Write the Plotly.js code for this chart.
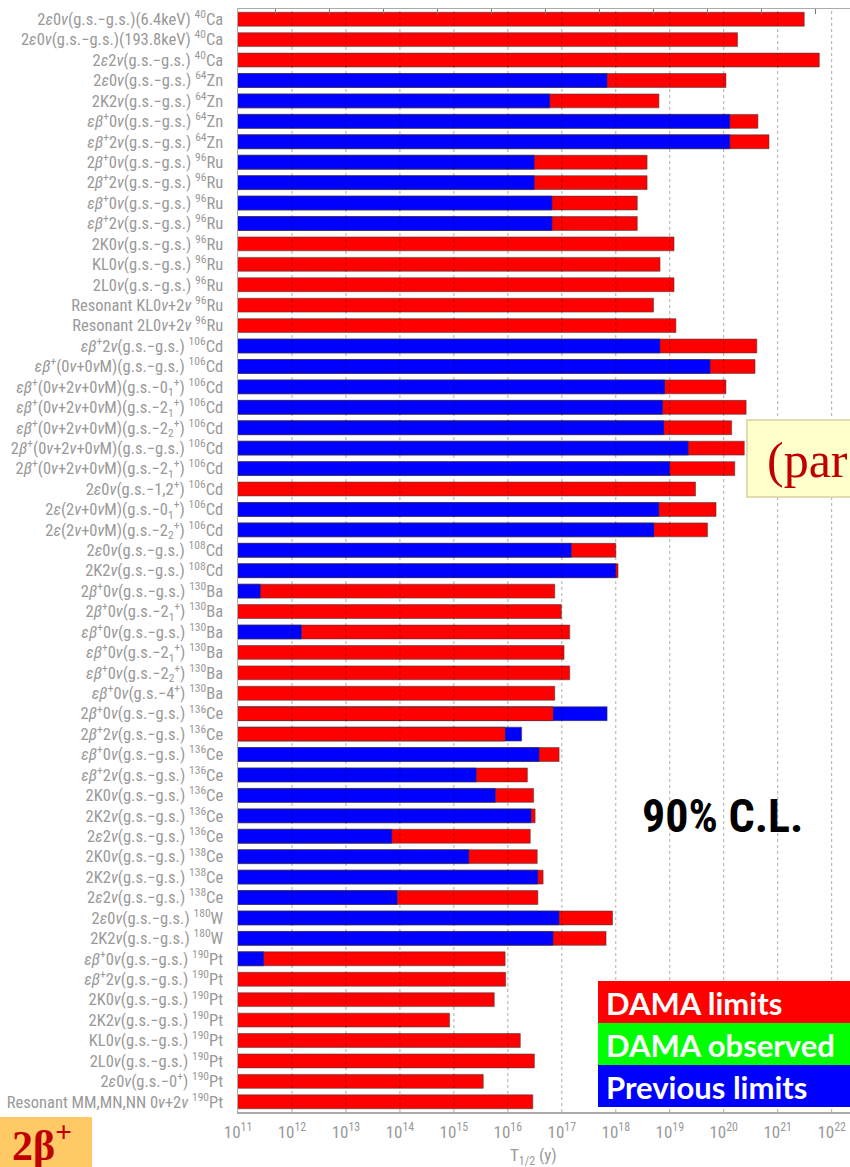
<!DOCTYPE html>
<html>
<head>
<meta charset="utf-8">
<script src="https://cdn.plot.ly/plotly-3.0.1.min.js"></script>
<style>html,body{margin:0;padding:0;overflow:hidden;background:#fff}</style>
</head>
<body>
<div id="chart" style="width:850px;height:1167px"></div>
<script>
// ---------- DATA ----------
const categories = [
  "2ε0ν(g.s.−g.s.)(6.4keV) <sup>40</sup>Ca",
  "2ε0ν(g.s.−g.s.)(193.8keV) <sup>40</sup>Ca",
  "2ε2ν(g.s.−g.s.) <sup>40</sup>Ca",
  "2ε0ν(g.s.−g.s.) <sup>64</sup>Zn",
  "2K2ν(g.s.−g.s.) <sup>64</sup>Zn",
  "εβ<sup>+</sup>0ν(g.s.−g.s.) <sup>64</sup>Zn",
  "εβ<sup>+</sup>2ν(g.s.−g.s.) <sup>64</sup>Zn",
  "2β<sup>+</sup>0ν(g.s.−g.s.) <sup>96</sup>Ru",
  "2β<sup>+</sup>2ν(g.s.−g.s.) <sup>96</sup>Ru",
  "εβ<sup>+</sup>0ν(g.s.−g.s.) <sup>96</sup>Ru",
  "εβ<sup>+</sup>2ν(g.s.−g.s.) <sup>96</sup>Ru",
  "2K0ν(g.s.−g.s.) <sup>96</sup>Ru",
  "KL0ν(g.s.−g.s.) <sup>96</sup>Ru",
  "2L0ν(g.s.−g.s.) <sup>96</sup>Ru",
  "Resonant KL0ν+2ν <sup>96</sup>Ru",
  "Resonant 2L0ν+2ν <sup>96</sup>Ru",
  "εβ<sup>+</sup>2ν(g.s.−g.s.) <sup>106</sup>Cd",
  "εβ<sup>+</sup>(0ν+0νM)(g.s.−g.s.) <sup>106</sup>Cd",
  "εβ<sup>+</sup>(0ν+2ν+0νM)(g.s.−0<sub>1</sub><sup>+</sup>) <sup>106</sup>Cd",
  "εβ<sup>+</sup>(0ν+2ν+0νM)(g.s.−2<sub>1</sub><sup>+</sup>) <sup>106</sup>Cd",
  "εβ<sup>+</sup>(0ν+2ν+0νM)(g.s.−2<sub>2</sub><sup>+</sup>) <sup>106</sup>Cd",
  "2β<sup>+</sup>(0ν+2ν+0νM)(g.s.−g.s.) <sup>106</sup>Cd",
  "2β<sup>+</sup>(0ν+2ν+0νM)(g.s.−2<sub>1</sub><sup>+</sup>) <sup>106</sup>Cd",
  "2ε0ν(g.s.−1,2<sup>+</sup>) <sup>106</sup>Cd",
  "2ε(2ν+0νM)(g.s.−0<sub>1</sub><sup>+</sup>) <sup>106</sup>Cd",
  "2ε(2ν+0νM)(g.s.−2<sub>2</sub><sup>+</sup>) <sup>106</sup>Cd",
  "2ε0ν(g.s.−g.s.) <sup>108</sup>Cd",
  "2K2ν(g.s.−g.s.) <sup>108</sup>Cd",
  "2β<sup>+</sup>0ν(g.s.−g.s.) <sup>130</sup>Ba",
  "2β<sup>+</sup>0ν(g.s.−2<sub>1</sub><sup>+</sup>) <sup>130</sup>Ba",
  "εβ<sup>+</sup>0ν(g.s.−g.s.) <sup>130</sup>Ba",
  "εβ<sup>+</sup>0ν(g.s.−2<sub>1</sub><sup>+</sup>) <sup>130</sup>Ba",
  "εβ<sup>+</sup>0ν(g.s.−2<sub>2</sub><sup>+</sup>) <sup>130</sup>Ba",
  "εβ<sup>+</sup>0ν(g.s.−4<sup>+</sup>) <sup>130</sup>Ba",
  "2β<sup>+</sup>0ν(g.s.−g.s.) <sup>136</sup>Ce",
  "2β<sup>+</sup>2ν(g.s.−g.s.) <sup>136</sup>Ce",
  "εβ<sup>+</sup>0ν(g.s.−g.s.) <sup>136</sup>Ce",
  "εβ<sup>+</sup>2ν(g.s.−g.s.) <sup>136</sup>Ce",
  "2K0ν(g.s.−g.s.) <sup>136</sup>Ce",
  "2K2ν(g.s.−g.s.) <sup>136</sup>Ce",
  "2ε2ν(g.s.−g.s.) <sup>136</sup>Ce",
  "2K0ν(g.s.−g.s.) <sup>138</sup>Ce",
  "2K2ν(g.s.−g.s.) <sup>138</sup>Ce",
  "2ε2ν(g.s.−g.s.) <sup>138</sup>Ce",
  "2ε0ν(g.s.−g.s.) <sup>180</sup>W",
  "2K2ν(g.s.−g.s.) <sup>180</sup>W",
  "εβ<sup>+</sup>0ν(g.s.−g.s.) <sup>190</sup>Pt",
  "εβ<sup>+</sup>2ν(g.s.−g.s.) <sup>190</sup>Pt",
  "2K0ν(g.s.−g.s.) <sup>190</sup>Pt",
  "2K2ν(g.s.−g.s.) <sup>190</sup>Pt",
  "KL0ν(g.s.−g.s.) <sup>190</sup>Pt",
  "2L0ν(g.s.−g.s.) <sup>190</sup>Pt",
  "2ε0ν(g.s.−0<sup>+</sup>) <sup>190</sup>Pt",
  "Resonant MM,MN,NN 0ν+2ν <sup>190</sup>Pt"
];

// DAMA half-life limits T1/2 (y)
const damaLimits = [
  3.1e21, 1.8e20, 5.9e21, 1.1e20, 6.3e18, 4.3e20, 6.9e20, 3.8e18, 3.8e18, 2.5e18, 2.5e18,
  1.2e19, 6.6e18, 1.2e19, 5.0e18, 1.3e19,
  4.1e20, 3.8e20, 1.1e20, 2.6e20, 1.4e20, 2.4e20, 1.6e20, 3.0e19, 7.2e19, 5.0e19,
  1.0e18, 1.1e18, 7.4e16, 9.8e16, 1.4e17, 1.1e17, 1.4e17, 7.4e16,
  6.9e16, 8.9e15, 8.9e16, 2.3e16, 3.0e16, 3.2e16, 2.6e16, 3.5e16, 4.5e16, 3.6e16, 8.7e17, 6.6e17,
  8.9e15, 9.1e15, 5.6e15, 8.3e14, 1.7e16, 3.1e16, 3.5e15, 2.9e16
];

// Previous limits T1/2 (y); null = none
const previousLimits = [
  null, null, null, 6.9e17, 6.0e16, 1.3e20, 1.3e20, 3.1e16, 3.1e16, 6.6e16, 6.6e16,
  null, null, null, null, null,
  6.6e18, 5.6e19, 8.1e18, 7.4e18, 7.8e18, 2.2e19, 1.0e19, null, 6.3e18, 5.1e18,
  1.5e17, 1.0e18, 2.6e11, null, 1.5e12, null, null, null,
  6.9e17, 1.8e16, 3.8e16, 2.6e15, 5.9e15, 2.7e16, 7.1e13, 1.9e15, 3.6e16, 8.9e13, 8.9e16, 6.9e16,
  3.0e11, null, null, null, null, null, null, null
];

const xTickValues = [1e11,1e12,1e13,1e14,1e15,1e16,1e17,1e18,1e19,1e20,1e21,1e22];
const xTickLabels = ["10<sup>11</sup>","10<sup>12</sup>","10<sup>13</sup>","10<sup>14</sup>","10<sup>15</sup>","10<sup>16</sup>",
                     "10<sup>17</sup>","10<sup>18</sup>","10<sup>19</sup>","10<sup>20</sup>","10<sup>21</sup>","10<sup>22</sup>"];
const topMinorTicks = [5e11,5e12,5e13,5e14,5e15,5e16,5e17,5e18,5e19,5e20,5e21];

const legendItems = ["DAMA limits", "DAMA observed", "Previous limits"];
const legendColors = ["#ff0000", "#00ff00", "#0000ff"];

// ---------- STYLE / GEOMETRY ----------
const RED = "#ff0000", BLUE = "#0000ff";
const W = 850, H = 1167, ML = 238, MT = 9, MB = 55;
const plotW = W - ML, plotH = H - MT - MB;
const decadePx = 53.97;
const xMaxLog = 11 + plotW / decadePx;
const px = x => (x - ML) / plotW;
const py = y => (H - MB - y) / plotH;

const idx = categories.map((_, i) => i);
const tickText = categories.map(s => s.replace(/([εβν])/g, "<i>$1</i>"));

// longer bar drawn first, shorter bar drawn on top
const longVals = [], longCols = [], shortVals = [], shortCols = [];
damaLimits.forEach((d, i) => {
  const p = previousLimits[i];
  if (p === null) { longVals.push(d); longCols.push(RED); shortVals.push(null); shortCols.push(RED); }
  else if (p > d) { longVals.push(p); longCols.push(BLUE); shortVals.push(d); shortCols.push(RED); }
  else { longVals.push(d); longCols.push(RED); shortVals.push(p); shortCols.push(BLUE); }
});

const barLine = {color: "rgba(60,60,60,0.55)", width: 1};
const traces = [
  {type: "bar", orientation: "h", x: longVals, y: idx, width: 0.68,
   marker: {color: longCols, line: barLine}, xaxis: "x", yaxis: "y", hoverinfo: "skip"},
  {type: "bar", orientation: "h", x: shortVals, y: idx, width: 0.68,
   marker: {color: shortCols, line: barLine}, xaxis: "x2", yaxis: "y", hoverinfo: "skip"}
];

const labelFont = "Liberation Sans Narrow, Roboto Condensed, DejaVu Sans Condensed, Liberation Sans, sans-serif";

const shapes = xTickValues.slice(1).map(v => ({
  type: "line", xref: "x", yref: "paper", x0: v, x1: v, y0: 0, y1: 1,
  line: {color: "rgba(0,0,0,0.33)", width: 1, dash: "dot"}, layer: "above"
}));

// legend boxes
const legTop = 981, legH = 42;
legendItems.forEach((t, i) => {
  shapes.push({type: "rect", xref: "paper", yref: "paper",
    x0: px(598), x1: px(850), y0: py(legTop + legH * (i + 1)), y1: py(legTop + legH * i),
    fillcolor: legendColors[i], line: {width: 0}, layer: "above"});
});
// "(par" note box
shapes.push({type: "rect", xref: "paper", yref: "paper", x0: px(747), x1: px(852), y0: py(497), y1: py(420),
  fillcolor: "#ffffcc", line: {color: "#e2dab0", width: 2}, layer: "above"});
// 2β+ box
shapes.push({type: "rect", xref: "paper", yref: "paper", x0: px(0), x1: px(92), y0: py(1167), y1: py(1117),
  fillcolor: "#ffc966", line: {width: 0}, layer: "above"});

const annotations = legendItems.map((t, i) => ({
  xref: "paper", yref: "paper", x: px(604), y: py(legTop + legH * i + legH / 2 + 1),
  xanchor: "left", yanchor: "middle", showarrow: false, text: "<b>" + t + "</b>",
  font: {family: "Lato, Noto Sans, sans-serif", size: 31, color: "#ffffff"}
}));
annotations.push(
  {xref: "paper", yref: "paper", x: px(765), y: py(460), xanchor: "left", yanchor: "middle", showarrow: false,
   text: "(par", font: {family: "Liberation Serif, serif", size: 50, color: "#c00000"}},
  {xref: "paper", yref: "paper", x: px(722), y: py(816), xanchor: "center", yanchor: "middle", showarrow: false,
   text: "<b>90% C.L.</b>", font: {family: labelFont, size: 46, color: "#000000"}},
  {xref: "paper", yref: "paper", x: px(10), y: py(1142), xanchor: "left", yanchor: "middle", showarrow: false,
   text: "<b>2β<sup>+</sup></b>", font: {family: "Liberation Serif, serif", size: 42, color: "#c00000"}},
  {xref: "paper", yref: "paper", x: px(533), y: py(1156), xanchor: "center", yanchor: "middle", showarrow: false,
   text: "T<sub>1/2</sub> (y)", font: {family: labelFont, size: 17, color: "#999999"}}
);

const layout = {
  width: W, height: H,
  margin: {l: ML, r: 0, t: MT, b: MB, pad: 0},
  paper_bgcolor: "#ffffff", plot_bgcolor: "#ffffff",
  barmode: "overlay", showlegend: false,
  xaxis: {type: "log", range: [11, xMaxLog], tickmode: "array", tickvals: xTickValues, ticktext: xTickLabels,
          tickfont: {family: labelFont, size: 17, color: "#999999"}, ticks: "", showgrid: false, zeroline: false,
          showline: true, linecolor: "#aaaaaa", linewidth: 1.5, ticklabelstandoff: 4},
  xaxis2: {type: "log", range: [11, xMaxLog], overlaying: "x", side: "top", anchor: "y", tickmode: "array",
           tickvals: topMinorTicks, ticks: "inside", ticklen: 5, tickcolor: "#777777", tickwidth: 1,
           showticklabels: false, showgrid: false, zeroline: false, showline: true, linecolor: "#aaaaaa", linewidth: 1.5},
  yaxis: {range: [53.5, -0.5], tickmode: "array", tickvals: idx, ticktext: tickText,
          tickfont: {family: labelFont, size: 16.5, color: "#999999"}, ticks: "", showgrid: false, zeroline: false,
          showline: true, linecolor: "#aaaaaa", linewidth: 1.5, ticklabelstandoff: 10},
  shapes: shapes,
  annotations: annotations
};

Plotly.newPlot("chart", traces, layout, {displayModeBar: false, staticPlot: true});
</script>
</body>
</html>
